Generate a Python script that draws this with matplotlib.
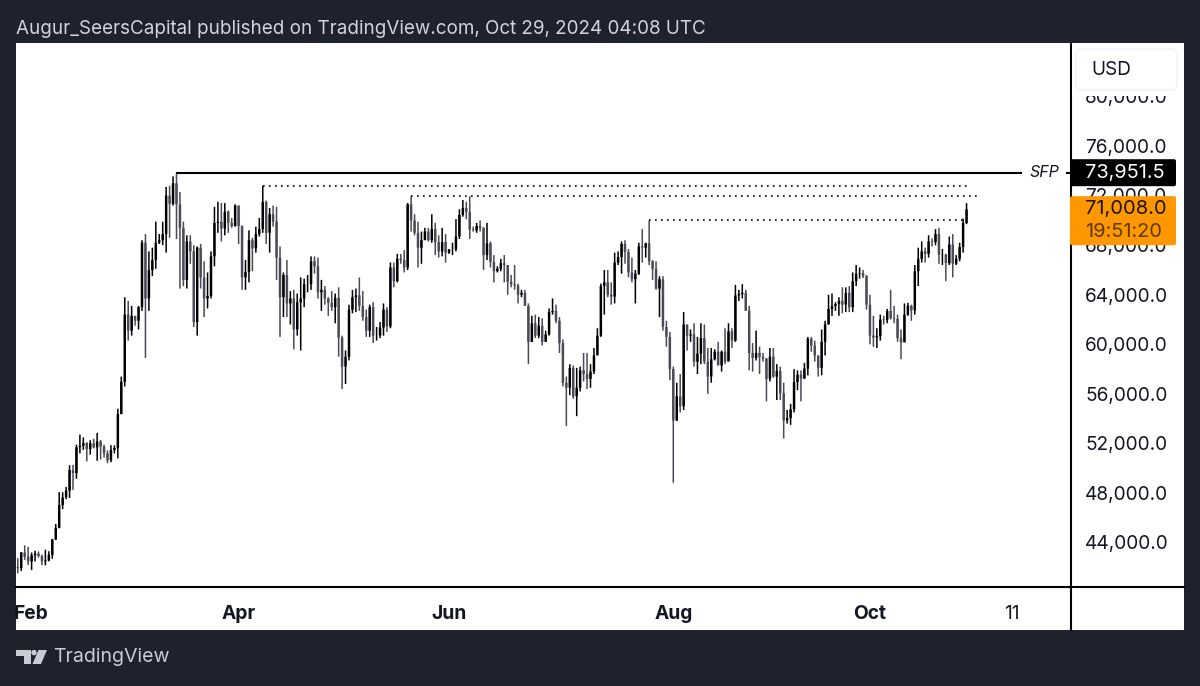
import numpy as np
import matplotlib
matplotlib.use("Agg")
import matplotlib.pyplot as plt
from matplotlib.lines import Line2D
from matplotlib.patches import FancyBboxPatch, Rectangle, Polygon, Circle
from matplotlib.transforms import IdentityTransform, ScaledTranslation

plt.rcParams['font.family'] = ['Inter', 'DejaVu Sans']

W, H = 1200, 686
BG = "#1e222d"
UP = "#000000"
DOWN = "#4b4b57"

# daily BTCUSD candles, Jan 28 to Oct 29 2024
first_open = 42120
closes = [
    42030, 43300, 42950, 42580,
    43080, 43200, 43010, 42580, 42660, 43090, 44340, 45290, 47130, 47750, 48290, 49950, 49700, 51800, 51900,
    52130, 51650, 52120, 51780, 52260, 51850, 51300, 50740, 51570, 51730, 54480, 57080, 62500, 61200,
    62400, 62000, 63100, 68300, 63800, 66100, 66900, 68300, 68500, 69000, 72100, 71450, 73100, 71400, 69500,
    65300, 68400, 67600, 61900, 67900, 65500, 63800, 64000, 67200, 69900, 69990, 69450, 70800, 69900, 69650, 71300,
    69650, 65500, 65950, 68500, 67850, 69000, 69400, 71600, 69100, 70600, 70000, 67100, 63900, 65700, 63400,
    63800, 61300, 63500, 63800, 64950, 64950, 66800, 66400, 64300, 64500, 63800, 63450, 63100, 63850, 60650,
    58300, 59100, 62900, 63900, 64050, 63200, 62300, 61200, 63100, 60800, 60800, 61450, 62900, 61550, 66300,
    65200, 67000, 66900, 66300, 71400, 70100, 69100, 67900, 68500, 69200, 68500, 69400, 68350, 67600, 68350, 67500,
    67750, 67750, 68800, 70550, 71100, 70800, 69350, 69300, 69650, 69500, 67300, 68250, 66750, 66000, 66200,
    66650, 66500, 65150, 64950, 64850, 64100, 64250, 63200, 60300, 61800, 60800, 61600, 60300, 60900, 62700,
    62800, 62000, 60200, 57000, 56600, 58200, 55900, 56600, 58000, 57700, 57300, 57900, 59200, 60800, 64800,
    65100, 64100, 63950, 66700, 67150, 68200, 67550, 65900, 65350, 65800, 68000, 67900, 68250, 66800, 66200, 64600,
    65350, 61500, 60700, 58100, 53950, 55900, 55100, 61700, 60800, 60900, 58700, 59350, 60600, 58700, 57500,
    58900, 59500, 58400, 59500, 58700, 61150, 60400, 64050, 64150, 64250, 62800, 59400, 59000, 59400, 59100, 58950,
    57300, 59100, 57500, 57950, 56150, 53950, 54150, 54850, 57050, 57650, 57350, 58150, 60550, 60000, 59200,
    58200, 60300, 61700, 62950, 63200, 63350, 63600, 63300, 64250, 63100, 65200, 65800, 65850, 65600, 63300,
    60800, 60650, 60750, 62100, 62050, 62800, 62200, 62150, 60600, 60250, 62500, 63200, 62850, 66000, 67000,
    67600, 67400, 68400, 68350, 69000, 67350, 67350, 66650, 68150, 66600, 67000, 67950, 69900, 71008,
]
highs = [
    42840, 43330, 43880, 43750,
    43300, 43440, 43380, 43120, 43530, 43400, 44400, 45600, 48170, 48160, 48590, 50350, 50370, 52000, 52820,
    52580, 52200, 52360, 52480, 52950, 52380, 52000, 51540, 51960, 51950, 54900, 57500, 63900, 63600,
    63200, 62400, 63200, 68500, 69000, 67600, 67900, 70000, 69000, 70000, 72800, 72900, 73650, 73950, 72400,
    70000, 68900, 68900, 68100, 68000, 68200, 66800, 65900, 67600, 71200, 71600, 71500, 71500, 70900, 70300, 71400,
    71300, 69700, 66900, 69300, 68700, 69600, 70300, 72900, 71700, 71100, 71300, 71200, 68000, 65900, 66900,
    64400, 64500, 64200, 65500, 65400, 65700, 67200, 67200, 67100, 65300, 64800, 63900, 64400, 64200, 64700,
    60800, 59600, 63300, 64500, 64600, 65500, 64400, 62900, 63300, 63500, 61500, 61900, 63400, 63100, 66700,
    66700, 67400, 67400, 67700, 71500, 72050, 70600, 70000, 69200, 69500, 69500, 70600, 69900, 68900, 69500, 69000,
    67800, 68300, 70200, 71000, 71750, 71600, 72050, 69600, 69900, 70100, 69550, 69900, 68400, 67300, 66400,
    67000, 67300, 66500, 65700, 66500, 65000, 64500, 64500, 63400, 62400, 62500, 62300, 62200, 61200, 63000,
    63800, 63300, 62300, 60500, 57500, 58500, 58400, 58200, 58300, 59400, 59400, 58500, 59800, 61400, 65000,
    66100, 66100, 65100, 67500, 67600, 68400, 68500, 67800, 67100, 66100, 68300, 69400, 68300, 70100, 66900, 66800,
    65600, 65600, 62000, 61100, 58300, 57000, 57700, 62700, 61700, 61300, 61800, 60700, 61800, 61700, 59800,
    59800, 59700, 60300, 59600, 61400, 61800, 61400, 64900, 64500, 64950, 64500, 63200, 60200, 61200, 59900, 59400,
    59000, 59800, 59800, 58500, 58300, 57000, 54800, 55300, 58100, 58000, 58000, 58600, 60700, 60700, 60400,
    59200, 61300, 62000, 64100, 64200, 63500, 63900, 64700, 64700, 64800, 65900, 66500, 66300, 66100, 65700,
    64100, 62400, 61400, 62500, 62400, 62950, 64500, 63200, 62500, 61300, 63400, 63450, 63300, 66500, 67900,
    68400, 67900, 68900, 68650, 69400, 69500, 67800, 67400, 68800, 69000, 67300, 68300, 70250, 71500,
]
lows = [
    41620, 41800, 42700, 42280,
    41880, 42580, 42880, 42280, 42260, 42580, 42780, 44320, 45250, 46800, 47600, 47700, 48350, 49250, 51300,
    51580, 50650, 51200, 51700, 50700, 50800, 50950, 50500, 50580, 51290, 50900, 54450, 56700, 60400,
    60800, 61600, 61300, 62800, 59000, 62800, 65600, 66200, 68200, 68100, 67500, 68700, 71300, 68600, 64600,
    64800, 64600, 66600, 61500, 60800, 64600, 62300, 63000, 63800, 66400, 69100, 68400, 68900, 69100, 69500, 69600,
    68200, 64500, 64500, 65100, 66000, 67500, 68800, 69100, 68200, 67500, 69600, 65300, 60700, 62300, 62300,
    61700, 59700, 60800, 59600, 63100, 64300, 64500, 65800, 63800, 62800, 63300, 62400, 62800, 61800, 59100,
    56500, 56900, 58800, 62600, 62700, 62800, 62000, 60700, 60700, 60200, 60400, 60600, 60800, 61100, 61400,
    64700, 65100, 66600, 65900, 66100, 69200, 68900, 66300, 66600, 68600, 68400, 68300, 67300, 67100, 67200, 66700,
    67400, 67300, 67600, 68600, 70400, 70200, 68600, 69200, 69100, 69200, 66100, 66900, 66300, 65100, 65900,
    66000, 65100, 64100, 64700, 64500, 63400, 63900, 63200, 58500, 60300, 60600, 60600, 60000, 60300, 60800,
    62500, 61800, 59400, 56700, 53500, 56000, 55700, 54300, 56300, 57100, 56500, 56600, 57700, 59300, 60700,
    62500, 63900, 63300, 63400, 66500, 65800, 66600, 65500, 65100, 63400, 65700, 66700, 67100, 66500, 65300, 64500,
    62300, 61200, 59900, 57200, 48930, 53900, 54600, 54800, 59600, 60300, 58300, 57700, 58500, 58500, 56100,
    57000, 58800, 58400, 57900, 58500, 58800, 59800, 60300, 63600, 63800, 62800, 58000, 57900, 58800, 57700, 58700,
    55500, 57100, 57400, 55600, 55600, 52500, 53700, 53600, 54600, 56400, 55500, 57300, 57600, 59500, 58700,
    57500, 57600, 59200, 61700, 62400, 62800, 62400, 62600, 62700, 62700, 62700, 64800, 65400, 65450, 62900,
    60100, 59900, 59800, 60400, 61700, 61800, 62100, 61800, 60300, 58900, 60300, 62400, 62000, 62500, 64800,
    66700, 66700, 67100, 68000, 68100, 66600, 66500, 65200, 66500, 65500, 66500, 66800, 67500, 69800,
]

# days counted from Feb 1
first_day = -4
price_ticks = [44000, 48000, 52000, 56000, 60000, 64000, 68000, 72000, 76000, 80000]
date_ticks = [0, 60, 121, 186, 243, 284]
date_labels = ["Feb", "Apr", "Jun", "Aug", "Oct", "11"]

# levels drawn on the chart: price, first day, last day
sfp_price, sfp_start = 73951.5, 42
dotted_levels = [(72900, 67, 272), (72050, 110, 275), (70100, 179, 270)]
last_price = 71008.0
countdown = "19:51:20"

opens = np.array([first_open] + closes[:-1])
closes = np.array(closes)
highs = np.array(highs)
lows = np.array(lows)
days = np.arange(len(closes)) + first_day
up = closes >= opens

fig = plt.figure(figsize=(W / 100, H / 100), dpi=100, facecolor=BG)
ident = IdentityTransform()


def flip(y):
    return H - y


# white card behind the chart and the price scale
fig.add_artist(Rectangle((16, flip(630)), 1168, 587, transform=ident, fc="white", ec="none", zorder=-5))

ax = fig.add_axes([16 / W, (H - 587) / H, (1070.5 - 16) / W, (587 - 43) / H], facecolor="none")
ax.set_xlim((16 - 31.6) / 3.45, (1070.5 - 31.6) / 3.45)
ax.set_ylim(40513, 84420)

colors = np.where(up, UP, DOWN)
# no pixel snapping, the bars are only a few pixels wide
wicks = ax.vlines(days, lows, highs, colors=colors, lw=1.1, zorder=3)
wicks.set_snap(False)
bodies = ax.bar(days, np.abs(closes - opens), bottom=np.minimum(opens, closes), width=0.72, color=colors, lw=0, zorder=3)
for b in bodies:
    b.set_snap(False)

ax.plot([sfp_start, 320], [sfp_price, sfp_price], color="black", lw=1.5, zorder=4, solid_capstyle="butt")
for price, d0, d1 in dotted_levels:
    ax.plot([d0, d1], [price, price], color="black", lw=1.2, ls=(0, (1, 2.6)), zorder=4)

for s in ["top", "left"]:
    ax.spines[s].set_visible(False)
ax.spines["right"].set_linewidth(1.5)
ax.spines["bottom"].set_linewidth(1.5)

ax.yaxis.tick_right()
ax.set_yticks(price_ticks)
ax.set_yticklabels([f"{p:,.1f}" for p in price_ticks], fontsize=13.7, color="#131722")
ax.tick_params(axis="y", length=0, pad=10.5)
lift = ScaledTranslation(0, 1.5 / 72 * 0.72, fig.dpi_scale_trans)
for lab in ax.get_yticklabels():
    lab.set_transform(lab.get_transform() + lift)
ax.set_xticks(date_ticks)
ax.set_xticklabels(date_labels, fontsize=13.8, color="#131722")
ax.tick_params(axis="x", length=0, pad=13)
for lab in ax.get_xticklabels()[:-1]:
    lab.set_fontweight("bold")

ax.text(1044, flip(172.7), "SFP", transform=ident, fontsize=11.5, style="italic", color="#131722",
        ha="center", va="center", zorder=5,
        bbox=dict(fc="white", ec="none", boxstyle="square,pad=0.45"))

# rules carry on under the price scale and the date scale
fig.add_artist(Line2D([1070, 1184], [flip(586.5), flip(586.5)], transform=ident, color="black", lw=1.5, zorder=1))
fig.add_artist(Line2D([1070.5, 1070.5], [flip(587), flip(630)], transform=ident, color="black", lw=1.5, zorder=1))

# USD box and price badges sit on top of the scale labels
fig.add_artist(Rectangle((1072, flip(96)), 111, 52, transform=ident, fc="white", ec="none", zorder=1.5))
fig.add_artist(FancyBboxPatch((1076, flip(90)), 101, 41, boxstyle="round,pad=0,rounding_size=6", transform=ident,
                              fc="white", ec="#f0f3fa", lw=1, zorder=2))
fig.text(1091, flip(70), "USD", transform=ident, fontsize=13.7, color="#131722", va="center", zorder=3)

sfp_y = ax.transData.transform((0, sfp_price))[1]
fig.add_artist(FancyBboxPatch((1070, sfp_y - 13.5), 106, 27, boxstyle="round,pad=0,rounding_size=2", transform=ident,
                              fc="black", ec="none", zorder=2))
fig.text(1085, sfp_y, f"{sfp_price:,.1f}", transform=ident, fontsize=14.3, color="white", va="center", zorder=3)

last_y = ax.transData.transform((0, last_price))[1]
fig.add_artist(FancyBboxPatch((1070, last_y - 36), 106, 49, boxstyle="round,pad=0,rounding_size=2", transform=ident,
                              fc="#ff9800", ec="none", zorder=2))
fig.text(1085, last_y, f"{last_price:,.1f}", transform=ident, fontsize=14.4, color="#1a1306", va="center", zorder=3)
fig.text(1085, last_y - 23, countdown, transform=ident, fontsize=14.4, color="#5c3a05", va="center", zorder=3)

# header and footer on the dark frame
fig.text(16, flip(29.5), "Augur_SeersCapital published on TradingView.com, Oct 29, 2024 04:08 UTC",
         transform=ident, fontsize=13.56, color="#d1d4dc", va="center")

logo = "#c9ccd5"
fig.add_artist(Polygon([(16, flip(650)), (31, flip(650)), (31, flip(664)), (24, flip(664)), (24, flip(655.5)), (16, flip(655.5))],
                       transform=ident, fc=logo, ec="none"))
fig.add_artist(Circle((34, flip(652.6)), 2.7, transform=ident, fc=logo, ec="none"))
fig.add_artist(Polygon([(38.5, flip(650)), (47, flip(650)), (41, flip(664)), (32.5, flip(664))],
                       transform=ident, fc=logo, ec="none"))
fig.text(53, flip(657), "TradingView", transform=ident, fontsize=14.1, color=logo, va="center")

fig.savefig("out.png", dpi=100, facecolor=BG)
